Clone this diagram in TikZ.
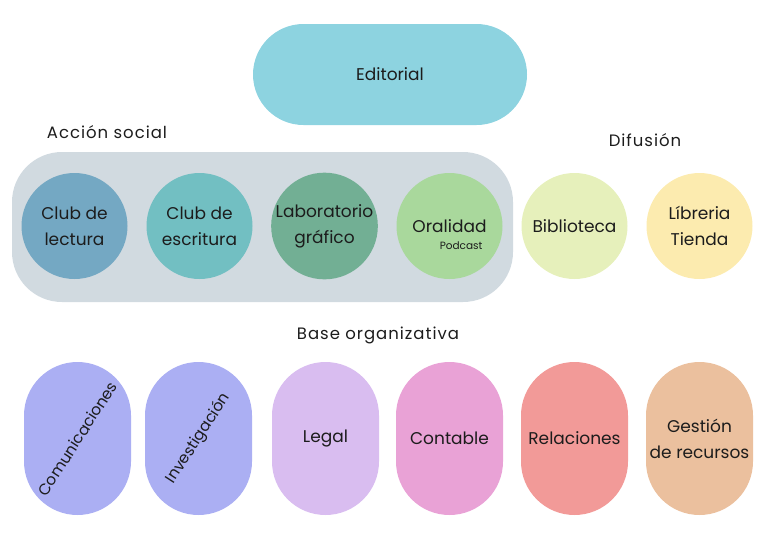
\documentclass[tikz,border=0pt]{standalone}
\usepackage{fontspec}
\setmainfont{Poppins}
\newfontfamily\headfont[LetterSpace=6]{Poppins}
\usetikzlibrary{shapes.misc}

\definecolor{editcol}{HTML}{8DD3E0}
\definecolor{grupo}{HTML}{D1DAE0}
\definecolor{lectcol}{HTML}{74A8C3}
\definecolor{escrcol}{HTML}{72BFC2}
\definecolor{labcol}{HTML}{72AF94}
\definecolor{oralcol}{HTML}{A9D89C}
\definecolor{biblcol}{HTML}{E6F0BB}
\definecolor{tiencol}{HTML}{FCEBAF}
\definecolor{comucol}{HTML}{ABAFF3}
\definecolor{legcol}{HTML}{D9BDF0}
\definecolor{contcol}{HTML}{E9A2D6}
\definecolor{relcol}{HTML}{F29A98}
\definecolor{gestcol}{HTML}{EBC09E}
\definecolor{tinta}{HTML}{1C1C1C}

\tikzset{
  circ/.style={circle,fill=#1,minimum size=106pt,inner sep=0pt,align=center,
    text=tinta,font=\fontsize{17}{26}\selectfont},
  pill/.style={rectangle,rounded corners=53.5pt,fill=#1,minimum width=107pt,
    minimum height=153pt,inner sep=0pt,align=center,text=tinta,
    font=\fontsize{17}{26}\selectfont},
  diag/.style={rotate=57,text=tinta,font=\fontsize{15.5}{20}\selectfont},
  head/.style={text=tinta,font=\headfont\fontsize{16.5}{20}\selectfont}
}

\begin{document}
\begin{tikzpicture}[x=1pt,y=-1pt]
  \useasboundingbox (0,0) rectangle (768,533);

  % editorial
  \node[rounded rectangle,fill=editcol,minimum width=274pt,minimum height=101pt,
    inner sep=0pt,text=tinta,font=\fontsize{17}{26}\selectfont] (editorial) at (390,74.5) {Editorial};

  % grupos
  \node[head] (accion) at (107,132) {Acción social};
  \node[head] (difusion) at (645,140) {Difusión};
  \node[head] (base) at (378,335) {Base organizativa};

  \node[rectangle,rounded corners=50pt,fill=grupo,minimum width=501pt,
    minimum height=150pt] (social) at (262.5,227) {};

  \foreach \x/\nm/\col/\txt in {74.5/lectura/lectcol/{Club de\\lectura},
      199.5/escritura/escrcol/{Club de\\escritura},
      324.5/grafico/labcol/{Laboratorio\\gráfico},
      449.5/oralidad/oralcol/{Oralidad},
      574.5/biblioteca/biblcol/{Biblioteca},
      699.5/tienda/tiencol/{Líbreria\\Tienda}}
    \node[circ=\col] (\nm) at (\x,226) {\txt};
  \node[anchor=east,text=tinta,font=\fontsize{10.5}{12}\selectfont] (podcast) at (486,246) {Podcast};

  % base organizativa
  \node[pill=comucol,label={[diag]center:Comunicaciones}] (comunic) at (77.5,438.5) {};
  \node[pill=comucol,label={[diag]center:Investigación}] (investig) at (198.5,438.5) {};
  \foreach \x/\nm/\col/\txt in {325.5/legal/legcol/{Legal},
      449.5/contable/contcol/{Contable},
      574.5/relaciones/relcol/{Relaciones},
      699.5/gestion/gestcol/{Gestión\\de recursos}}
    \node[pill=\col] (\nm) at (\x,438.5) {\txt};
\end{tikzpicture}
\end{document}
